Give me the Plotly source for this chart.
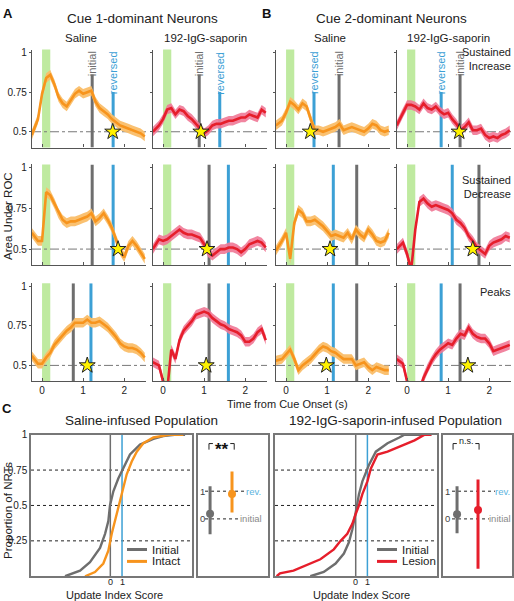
import plotly.graph_objects as go

W, H = 514, 601
FONT = "Liberation Sans, Arial, sans-serif"

# ---------------- data: time series (Area Under ROC) ----------------
T = [-0.25, -0.1, 0.0, 0.1, 0.2, 0.3, 0.4, 0.5, 0.6, 0.7, 0.8, 0.9, 1.0, 1.1,
     1.2, 1.3, 1.4, 1.5, 1.6, 1.7, 1.8, 1.9, 2.0, 2.1, 2.2, 2.3, 2.4, 2.5]

CUE1_SAL_INC = [0.48, 0.58, 0.74, 0.84, 0.86, 0.80, 0.72, 0.68, 0.66, 0.70, 0.74, 0.76, 0.74, 0.75,
                0.76, 0.69, 0.65, 0.63, 0.61, 0.58, 0.56, 0.54, 0.53, 0.52, 0.51, 0.50, 0.49, 0.47]
CUE1_SAP_INC = [0.50, 0.54, 0.58, 0.64, 0.65, 0.61, 0.64, 0.63, 0.60, 0.58, 0.55, 0.52, 0.49, 0.51,
                0.54, 0.55, 0.55, 0.56, 0.57, 0.57, 0.58, 0.59, 0.59, 0.61, 0.60, 0.59, 0.64, 0.62]
CUE2_SAL_INC = [0.54, 0.57, 0.62, 0.69, 0.67, 0.64, 0.68, 0.66, 0.58, 0.51, 0.51, 0.50, 0.51, 0.52,
                0.53, 0.55, 0.51, 0.52, 0.53, 0.52, 0.51, 0.50, 0.52, 0.55, 0.54, 0.51, 0.50, 0.51]
CUE2_SAP_INC = [0.54, 0.62, 0.67, 0.67, 0.66, 0.64, 0.68, 0.65, 0.64, 0.66, 0.63, 0.61, 0.62, 0.58,
                0.55, 0.51, 0.53, 0.56, 0.51, 0.51, 0.52, 0.48, 0.46, 0.47, 0.46, 0.48, 0.49, 0.51]

CUE1_SAL_DEC = [0.60, 0.55, 0.55, 0.85, 0.83, 0.78, 0.72, 0.68, 0.66, 0.67, 0.67, 0.68, 0.69, 0.70,
                0.72, 0.67, 0.69, 0.72, 0.68, 0.63, 0.56, 0.49, 0.45, 0.52, 0.55, 0.52, 0.48, 0.44]
CUE1_SAP_DEC = [0.50, 0.56, 0.55, 0.56, 0.58, 0.60, 0.62, 0.60, 0.59, 0.59, 0.58, 0.57, 0.53, 0.48,
                0.46, 0.48, 0.50, 0.50, 0.51, 0.51, 0.50, 0.48, 0.50, 0.53, 0.54, 0.55, 0.54, 0.51]
CUE2_SAL_DEC = [0.49, 0.55, 0.60, 0.44, 0.66, 0.74, 0.72, 0.67, 0.67, 0.68, 0.66, 0.64, 0.61, 0.58,
                0.59, 0.58, 0.57, 0.60, 0.56, 0.62, 0.59, 0.57, 0.62, 0.59, 0.55, 0.54, 0.55, 0.60]
CUE2_SAP_DEC = [0.50, 0.54, 0.47, 0.37, 0.62, 0.79, 0.81, 0.78, 0.76, 0.77, 0.76, 0.75, 0.74, 0.72,
                0.68, 0.66, 0.63, 0.58, 0.55, 0.51, 0.49, 0.47, 0.52, 0.54, 0.55, 0.56, 0.58, 0.57]

CUE1_SAL_PEAK = [0.56, 0.51, 0.51, 0.55, 0.58, 0.63, 0.66, 0.69, 0.72, 0.74, 0.77, 0.77, 0.77, 0.79,
                 0.77, 0.77, 0.78, 0.76, 0.74, 0.71, 0.68, 0.64, 0.62, 0.61, 0.61, 0.60, 0.58, 0.55]
CUE1_SAP_PEAK = [0.52, 0.50, 0.40, 0.34, 0.60, 0.54, 0.66, 0.72, 0.75, 0.78, 0.82, 0.83, 0.84, 0.83,
                 0.80, 0.78, 0.76, 0.75, 0.73, 0.72, 0.71, 0.69, 0.65, 0.65, 0.67, 0.71, 0.73, 0.66]
CUE2_SAL_PEAK = [0.53, 0.54, 0.57, 0.60, 0.54, 0.47, 0.50, 0.52, 0.54, 0.57, 0.60, 0.62, 0.61, 0.59,
                 0.58, 0.56, 0.54, 0.54, 0.54, 0.50, 0.51, 0.52, 0.49, 0.47, 0.49, 0.48, 0.47, 0.47]
CUE2_SAP_PEAK = [0.54, 0.51, 0.40, 0.32, 0.32, 0.34, 0.42, 0.48, 0.53, 0.57, 0.60, 0.62, 0.64, 0.63,
                 0.67, 0.70, 0.69, 0.74, 0.70, 0.68, 0.67, 0.67, 0.64, 0.59, 0.60, 0.61, 0.62, 0.63]

BAND = 0.03  # half-width of shaded error band

# row-major panel order: (Increase row) c1..c4, (Decrease row) c1..c4, (Peaks row) c1..c4
PANELS = [CUE1_SAL_INC, CUE1_SAP_INC, CUE2_SAL_INC, CUE2_SAP_INC,
          CUE1_SAL_DEC, CUE1_SAP_DEC, CUE2_SAL_DEC, CUE2_SAP_DEC,
          CUE1_SAL_PEAK, CUE1_SAP_PEAK, CUE2_SAL_PEAK, CUE2_SAP_PEAK]
INITIAL_T = [1.22, 0.88, 1.29, 1.29,
             1.22, 1.12, 1.72, 1.75,
             0.76, 1.12, 1.72, 1.29]
REVERSED_T = [1.73, 1.38, 0.68, 0.83,
              1.73, 1.59, 1.15, 1.10,
              1.19, 1.59, 1.15, 0.83]
STAR_T = [1.72, 0.92, 0.59, 1.27,
          1.85, 1.07, 1.07, 1.60,
          1.10, 1.05, 0.98, 1.48]
CUE_WINDOW = [0.0, 0.2]
ROW_LABELS = ["Sustained<br>Increase", "Sustained<br>Decrease", "Peaks"]
COL_TITLES = ["Saline", "192-IgG-saporin", "Saline", "192-IgG-saporin"]
Y_TICKS = [0.5, 0.75, 1]
Y_TICK_TEXT = ["0.5", "0.75", "1"]
X_TICKS = [0, 1, 2]

# ---------------- data: panel C ----------------
SAL_INIT_X = [-3.87, -2.59, -1.74, -0.88, -0.45, -0.17, -0.03, 0.26, 0.68, 1.11, 1.68, 2.54, 3.68, 4.53, 5.68, 6.39]
SAL_INIT_Y = [0.00, 0.04, 0.10, 0.20, 0.30, 0.39, 0.50, 0.60, 0.69, 0.76, 0.86, 0.93, 0.97, 0.99, 1.00, 1.00]
SAL_INTACT_X = [-2.16, -1.31, -0.60, -0.17, 0.12, 0.40, 0.68, 1.11, 1.40, 1.83, 2.26, 2.82, 3.68, 5.10, 6.24]
SAL_INTACT_Y = [0.00, 0.03, 0.09, 0.18, 0.30, 0.39, 0.50, 0.62, 0.72, 0.81, 0.88, 0.94, 0.98, 1.00, 1.00]
SAP_INIT_X = [-3.88, -2.73, -1.72, -1.01, -0.58, -0.29, 0.00, 0.28, 0.57, 1.15, 1.72, 2.72, 3.73, 4.16, 6.47]
SAP_INIT_Y = [0.00, 0.03, 0.09, 0.16, 0.24, 0.33, 0.45, 0.58, 0.67, 0.79, 0.88, 0.94, 0.98, 1.00, 1.00]
SAP_LESION_X = [-6.76, -6.47, -5.32, -4.17, -3.02, -1.87, -1.29, -0.72, -0.29, 0.00, 0.28, 0.57, 1.00,
                1.29, 1.86, 2.72, 3.88, 5.03, 5.89, 6.47]
SAP_LESION_Y = [0.00, 0.02, 0.04, 0.08, 0.12, 0.19, 0.25, 0.30, 0.37, 0.44, 0.50, 0.58, 0.67,
                0.76, 0.86, 0.88, 0.92, 0.96, 1.00, 1.00]
CDF_TICKS = [0.25, 0.5, 0.75, 1]
SCORE_TICKS = [0, 1]

SAL_MEAN = [0.19, 0.90]   # Initial, Intact
SAL_LO = [-0.55, 0.23]
SAL_HI = [1.18, 1.71]
SAP_MEAN = [0.17, 0.32]   # Initial, Lesion
SAP_LO = [-0.52, -1.80]
SAP_HI = [1.18, 1.42]

# ---------------- styles ----------------
ORANGE = "#f7941d"
ORANGE_BAND = "rgba(250,190,105,0.95)"
RED = "#e61e2b"
RED_BAND = "rgba(240,120,150,0.9)"
GRAY = "#6e6e6e"
BLUE = "#3ca0d5"
GREEN = "#bfeaa0"
AXC = "#555555"
LINE_COLORS = [ORANGE, RED, ORANGE, RED]
BAND_COLORS = [ORANGE_BAND, RED_BAND, ORANGE_BAND, RED_BAND]

COL_PX = [(32, 146), (153, 267), (276, 390), (397, 511)]
ROW_PX = [(44, 143), (160, 262), (280, 379)]
XR = [-0.245, 2.53]
YR = [0.4, 1.02]


def px_x(p):
    return p / W


def px_y(p):
    return 1 - p / H


def ax(k):
    return ("x" if k == 1 else f"x{k}"), ("y" if k == 1 else f"y{k}")


fig = go.Figure()
layout = dict(width=W, height=H, margin=dict(l=0, r=0, t=0, b=0),
              paper_bgcolor="white", plot_bgcolor="white", showlegend=False,
              font=dict(family=FONT, size=10, color="#222"))
shapes, annotations = [], []

for i, series in enumerate(PANELS):
    r, c = divmod(i, 4)
    k = i + 1
    xa, ya = ax(k)
    xl, xr_ = COL_PX[c]
    yt, yb = ROW_PX[r]
    layout["xaxis" + ("" if k == 1 else str(k))] = dict(
        domain=[px_x(xl), px_x(xr_)], range=XR, anchor=ya, tickvals=X_TICKS,
        showticklabels=(r == 2), ticks="inside", ticklen=3, tickcolor=AXC,
        showline=True, linecolor=AXC, linewidth=1.3, showgrid=False, zeroline=False,
        tickfont=dict(size=10, color="#222"))
    layout["yaxis" + ("" if k == 1 else str(k))] = dict(
        domain=[px_y(yb), px_y(yt)], range=YR, anchor=xa, tickvals=Y_TICKS,
        ticktext=Y_TICK_TEXT, showticklabels=(c == 0), ticks="outside", ticklen=2,
        tickcolor=AXC, showline=True, linecolor=AXC, linewidth=1.3, showgrid=False,
        zeroline=False, tickfont=dict(size=10, color="#222"))

    # background marks
    shapes.append(dict(type="rect", xref=xa, yref=f"{ya} domain", x0=CUE_WINDOW[0], x1=CUE_WINDOW[1],
                       y0=0, y1=1, fillcolor=GREEN, line=dict(width=0), layer="below"))
    shapes.append(dict(type="line", xref=f"{xa} domain", yref=ya, x0=0, x1=1, y0=0.5, y1=0.5,
                       line=dict(color="#777", width=1, dash="dashdot"), layer="below"))
    init_top = 0.862 if r == 0 else YR[1]
    rev_top = 0.752 if r == 0 else YR[1]
    shapes.append(dict(type="line", xref=xa, yref=ya, x0=INITIAL_T[i], x1=INITIAL_T[i],
                       y0=YR[0], y1=init_top, line=dict(color=GRAY, width=3), layer="below"))
    shapes.append(dict(type="line", xref=xa, yref=ya, x0=REVERSED_T[i], x1=REVERSED_T[i],
                       y0=YR[0], y1=rev_top, line=dict(color=BLUE, width=3), layer="below"))
    if r == 0:
        annotations.append(dict(text="initial", xref=xa, yref=ya, x=INITIAL_T[i], y=YR[1],
                                xanchor="center", yanchor="top", textangle=-90, showarrow=False,
                                font=dict(size=11, color=GRAY)))
        annotations.append(dict(text="reversed", xref=xa, yref=ya, x=REVERSED_T[i], y=YR[1],
                                xanchor="center", yanchor="top", textangle=-90, showarrow=False,
                                font=dict(size=11, color=BLUE)))

    hi = [v + BAND for v in series]
    lo = [v - BAND for v in series]
    fig.add_trace(go.Scatter(x=T + T[::-1], y=hi + lo[::-1], fill="toself", mode="none",
                             fillcolor=BAND_COLORS[c], xaxis=xa, yaxis=ya, hoverinfo="skip"))
    fig.add_trace(go.Scatter(x=T, y=series, mode="lines", line=dict(color=LINE_COLORS[c], width=2.6),
                             xaxis=xa, yaxis=ya))
    fig.add_trace(go.Scatter(x=[STAR_T[i]], y=[0.5], mode="markers", xaxis=xa, yaxis=ya,
                             marker=dict(symbol="star", size=12, color="#fff200",
                                         line=dict(color="#222", width=1)), cliponaxis=False))

# row labels on the right
for r, lab in enumerate(ROW_LABELS):
    ycen = [54, 183, 289][r]
    annotations.append(dict(text=lab, xref="paper", yref="paper", x=px_x(513), y=px_y(ycen),
                            xanchor="right", yanchor="middle", align="right", showarrow=False,
                            font=dict(size=11, color="#222")))

# titles
for c, t in enumerate(COL_TITLES):
    xc = [81, 205, 330, 448][c]
    annotations.append(dict(text=t, xref="paper", yref="paper", x=px_x(xc), y=px_y(32),
                            xanchor="center", yanchor="middle", showarrow=False,
                            font=dict(size=11.5, color="#222")))
for txt, xc, yc, size in [("Cue 1-dominant Neurons", 142, 13, 13.5), ("Cue 2-dominant Neurons", 391, 13, 13.5),
                          ("Saline-infused Population", 141, 419, 13.5),
                          ("192-IgG-saporin-infused Population", 395, 419, 13.5),
                          ("Time from Cue Onset (s)", 287, 402, 11),
                          ("Update Index Score", 114, 595, 11), ("Update Index Score", 361, 595, 11)]:
    annotations.append(dict(text=txt, xref="paper", yref="paper", x=px_x(xc), y=px_y(yc),
                            xanchor="center", yanchor="middle", showarrow=False,
                            font=dict(size=size, color="#222")))
for txt, xc, yc in [("A", 8, 8), ("B", 266, 8), ("C", 7, 407)]:
    annotations.append(dict(text=f"<b>{txt}</b>", xref="paper", yref="paper", x=px_x(xc), y=px_y(yc),
                            xanchor="center", yanchor="middle", showarrow=False,
                            font=dict(size=13, color="#111")))
for txt, yc in [("Area Under ROC", 212), ("Proportion of NRTs", 510)]:
    annotations.append(dict(text=txt, xref="paper", yref="paper", x=px_x(8), y=px_y(yc),
                            xanchor="center", yanchor="middle", textangle=-90, showarrow=False,
                            font=dict(size=11.5, color="#222")))

# ---------------- panel C axes ----------------
C_TOP, C_BOT = 433, 576
frame = dict(showline=True, mirror=True, linecolor="#777", linewidth=1.5, showgrid=False, zeroline=False)
layout["xaxis13"] = dict(domain=[px_x(31), px_x(192)], range=[-6.78, 6.98], anchor="y13",
                         showticklabels=False, ticks="", **frame)
layout["yaxis13"] = dict(domain=[px_y(C_BOT), px_y(C_TOP)], range=[0, 1], anchor="x13",
                         tickvals=CDF_TICKS, ticktext=["0.25", "0.5", "0.75", "1"], ticks="",
                         tickfont=dict(size=10), **frame)
layout["xaxis15"] = dict(domain=[px_x(275), px_x(437)], range=[-6.9, 6.95], anchor="y15",
                         showticklabels=False, ticks="", **frame)
layout["yaxis15"] = dict(domain=[px_y(C_BOT), px_y(C_TOP)], range=[0, 1], anchor="x15",
                         tickvals=CDF_TICKS, showticklabels=False, ticks="", **frame)
layout["xaxis14"] = dict(domain=[px_x(198), px_x(268)], range=[0.45, 3.64], anchor="y14",
                         showticklabels=False, ticks="", **frame)
layout["yaxis14"] = dict(domain=[px_y(C_BOT), px_y(C_TOP)], range=[-2.07, 3.04], anchor="x14",
                         showticklabels=False, ticks="", **frame)
layout["xaxis16"] = dict(domain=[px_x(443), px_x(512)], range=[0.33, 3.62], anchor="y16",
                         showticklabels=False, ticks="", **frame)
layout["yaxis16"] = dict(domain=[px_y(C_BOT), px_y(C_TOP)], range=[-2.07, 3.04], anchor="x16",
                         showticklabels=False, ticks="", **frame)

for k, curves, leg in [(13, [(SAL_INIT_X, SAL_INIT_Y, GRAY, "Initial"), (SAL_INTACT_X, SAL_INTACT_Y, ORANGE, "Intact")], 127),
                       (15, [(SAP_INIT_X, SAP_INIT_Y, GRAY, "Initial"), (SAP_LESION_X, SAP_LESION_Y, RED, "Lesion")], 377)]:
    xa, ya = ax(k)
    for yv in [0.25, 0.5, 0.75]:
        shapes.append(dict(type="line", xref=f"{xa} domain", yref=ya, x0=0, x1=1, y0=yv, y1=yv,
                           line=dict(color="#222", width=1, dash="dot"), layer="below"))
    shapes.append(dict(type="line", xref=xa, yref=f"{ya} domain", x0=0, x1=0, y0=0, y1=1,
                       line=dict(color=GRAY, width=1.5), layer="below"))
    shapes.append(dict(type="line", xref=xa, yref=f"{ya} domain", x0=1, x1=1, y0=0, y1=1,
                       line=dict(color=BLUE, width=1.5), layer="below"))
    for tv in SCORE_TICKS:
        annotations.append(dict(text=str(tv), xref=xa, yref="paper", x=tv, y=px_y(582),
                                xanchor="center", yanchor="middle", showarrow=False,
                                font=dict(size=9, color="#222")))
    for j, (xs, ys, col, name) in enumerate(curves):
        fig.add_trace(go.Scatter(x=xs, y=ys, mode="lines", line=dict(color=col, width=2.4),
                                 xaxis=xa, yaxis=ya, name=name))
        yl = [549, 561][j]
        shapes.append(dict(type="line", xref="paper", yref="paper", x0=px_x(leg), x1=px_x(leg + 20),
                           y0=px_y(yl), y1=px_y(yl), line=dict(color=col, width=3)))
        annotations.append(dict(text=name, xref="paper", yref="paper", x=px_x(leg + 23), y=px_y(yl),
                                xanchor="left", yanchor="middle", showarrow=False,
                                font=dict(size=11.5, color="#222")))

for k, means, los, his, cols, dots, labx, sig, br in [
        (14, SAL_MEAN, SAL_LO, SAL_HI, [GRAY, ORANGE], (0.77, 2.59, 2.36), (3.0, 2.86), "**", (0.95, 2.1)),
        (16, SAP_MEAN, SAP_LO, SAP_HI, [GRAY, RED], (0.76, 2.81, 2.52), (3.19, 3.05), "n.s.", (0.81, 2.05))]:
    xa, ya = ax(k)
    shapes.append(dict(type="line", xref=xa, yref=ya, x0=dots[0], x1=dots[1], y0=1, y1=1,
                       line=dict(color="#222", width=1, dash="dot"), layer="below"))
    shapes.append(dict(type="line", xref=xa, yref=ya, x0=dots[0], x1=dots[2], y0=0, y1=0,
                       line=dict(color="#222", width=1, dash="dot"), layer="below"))
    annotations.append(dict(text="rev.", xref=xa, yref=ya, x=labx[0], y=1, showarrow=False,
                            xanchor="center", yanchor="middle", font=dict(size=9.5, color="#5ab4e0")))
    annotations.append(dict(text="initial", xref=xa, yref=ya, x=labx[1], y=0, showarrow=False,
                            xanchor="center", yanchor="middle", font=dict(size=9.5, color="#8a8a8a")))
    for yv, t in [(1, "1"), (0, "0")]:
        annotations.append(dict(text=t, xref=f"{xa} domain", yref=ya, x=0.06, y=yv, showarrow=False,
                                xanchor="center", yanchor="middle", font=dict(size=9.5, color="#444")))
    for j in range(2):
        fig.add_trace(go.Scatter(x=[j + 1], y=[means[j]], mode="markers", xaxis=xa, yaxis=ya,
                                 marker=dict(color=cols[j], size=8),
                                 error_y=dict(type="data", symmetric=False, array=[his[j] - means[j]],
                                              arrayminus=[means[j] - los[j]], color=cols[j],
                                              thickness=3, width=0)))
    # significance bracket
    for xs in [[br[0], br[0], br[0] + 0.18], [br[1] - 0.18, br[1], br[1]]]:
        yy = [2.5, 2.72, 2.72] if xs[0] == br[0] else [2.72, 2.72, 2.5]
        fig.add_trace(go.Scatter(x=xs, y=yy, mode="lines", line=dict(color="#222", width=1),
                                 xaxis=xa, yaxis=ya))
    if sig == "**":
        annotations.append(dict(text="<b>**</b>", xref=xa, yref=ya, x=sum(br) / 2, y=2.52,
                                showarrow=False, xanchor="center", yanchor="middle",
                                font=dict(size=17, color="#111")))
    else:
        annotations.append(dict(text="n.s.", xref=xa, yref=ya, x=sum(br) / 2, y=2.8,
                                showarrow=False, xanchor="center", yanchor="middle",
                                font=dict(size=9, color="#222")))

layout["shapes"] = shapes
layout["annotations"] = annotations
fig.update_layout(**layout)
fig.write_html("out.html", config={"displayModeBar": False},
               post_script="document.body.style.margin='0';document.body.style.overflow='hidden';")
